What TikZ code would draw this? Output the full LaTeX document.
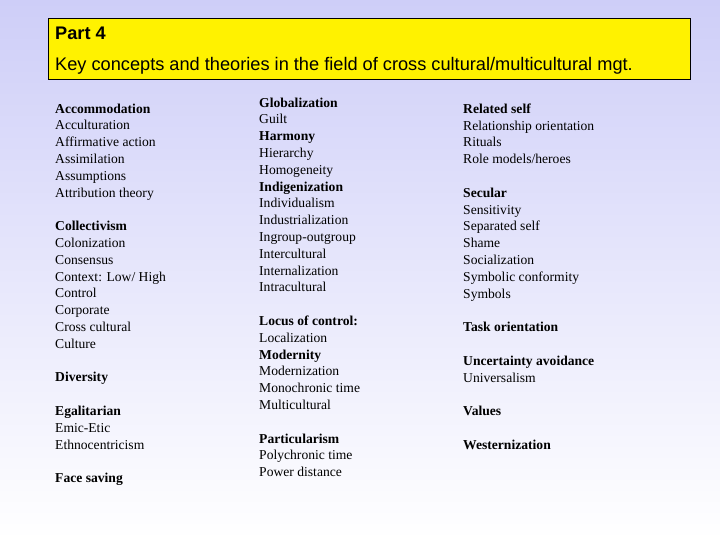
\documentclass[tikz,border=0pt]{standalone}
\usepackage{fontspec}
\setmainfont{Liberation Serif}
\newfontfamily\hdfont{Liberation Sans}
\begin{document}
\begin{tikzpicture}[x=1pt,y=-1pt,
  col/.style={anchor=north west,inner sep=0pt,align=left,font=\fontsize{13.6}{16.8}\selectfont},
  hd/.style={anchor=west,inner sep=0pt,font=\hdfont\fontsize{18.2}{20}\selectfont}]
\shade[top color={rgb,255:red,206;green,206;blue,248},bottom color=white] (0,0) rectangle (720,540);
\useasboundingbox (0,0) rectangle (720,540);
\node[draw=black,fill=yellow,line width=0.8pt,minimum width=642,minimum height=61,anchor=north west,inner sep=0] (box) at (48,18) {};
\node[hd] (t1) at (55,33) {\bfseries Part 4};
\node[hd] (t2) at (55,66) {Key concepts and theories in the field of cross cultural/multicultural mgt.};
\node[col] (c1) at (55,103.5) {\textbf{Accommodation}\\Acculturation\\Affirmative action\\Assimilation\\Assumptions\\Attribution theory\\[16.8pt]
\textbf{Collectivism}\\Colonization\\Consensus\\Context: Low/ High\\Control\\Corporate\\Cross cultural\\Culture\\[16.8pt]
\textbf{Diversity}\\[16.8pt]
\textbf{Egalitarian}\\Emic-Etic\\Ethnocentricism\\[16.8pt]
\textbf{Face saving}};
\node[col] (c2) at (259,97.5) {\textbf{Globalization}\\Guilt\\\textbf{Harmony}\\Hierarchy\\Homogeneity\\\textbf{Indigenization}\\Individualism\\Industrialization\\Ingroup-outgroup\\Intercultural\\Internalization\\Intracultural\\[16.8pt]
\textbf{Locus of control:}\\Localization\\\textbf{Modernity}\\Modernization\\Monochronic time\\Multicultural\\[16.8pt]
\textbf{Particularism}\\Polychronic time\\Power distance};
\node[col] (c3) at (463,103.5) {\textbf{Related self}\\Relationship orientation\\Rituals\\Role models/heroes\\[16.8pt]
\textbf{Secular}\\Sensitivity\\Separated self\\Shame\\Socialization\\Symbolic conformity\\Symbols\\[16.8pt]
\textbf{Task orientation}\\[16.8pt]
\textbf{Uncertainty avoidance}\\Universalism\\[16.8pt]
\textbf{Values}\\[16.8pt]
\textbf{Westernization}};
\end{tikzpicture}
\end{document}
